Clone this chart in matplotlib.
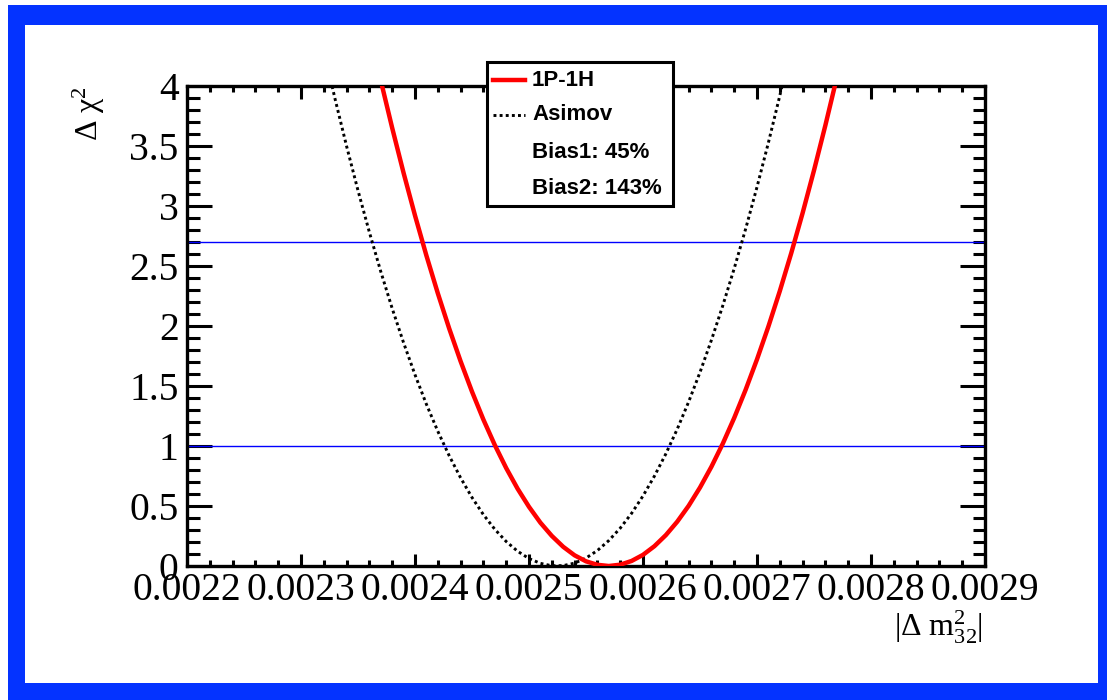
import matplotlib
matplotlib.use("Agg")
import matplotlib.pyplot as plt
from matplotlib.patches import Rectangle
from matplotlib.lines import Line2D
from matplotlib.ticker import MultipleLocator, FormatStrFormatter, FuncFormatter

# ---- data -----------------------------------------------------------------
# |dm^2_32| scan points and delta chi^2 for the 1P-1H fit
dm2_1p1h = [0.00237, 0.00238, 0.00239, 0.00240, 0.00241, 0.00242, 0.00243,
            0.00244, 0.00245, 0.00246, 0.00247, 0.00248, 0.00249, 0.00250,
            0.00251, 0.00252, 0.00253, 0.00254, 0.00255, 0.00256, 0.00257,
            0.00258, 0.00259, 0.00260, 0.00261, 0.00262, 0.00263, 0.00264,
            0.00265, 0.00266, 0.00267, 0.00268, 0.00269, 0.00270, 0.00271,
            0.00272, 0.00273, 0.00274, 0.00275, 0.00276, 0.00277]
chi2_1p1h = [4.045, 3.650, 3.275, 2.921, 2.587, 2.273, 1.979, 1.706, 1.453,
             1.220, 1.008, 0.816, 0.644, 0.493, 0.361, 0.251, 0.160, 0.089,
             0.039, 0.010, 0.000, 0.011, 0.042, 0.093, 0.165, 0.257, 0.369,
             0.501, 0.654, 0.827, 1.020, 1.234, 1.468, 1.722, 1.996, 2.291,
             2.606, 2.941, 3.297, 3.673, 4.069]

# Asimov scan
dm2_asimov = [0.00232, 0.00233, 0.00234, 0.00235, 0.00236, 0.00237, 0.00238,
              0.00239, 0.00240, 0.00241, 0.00242, 0.00243, 0.00244, 0.00245,
              0.00246, 0.00247, 0.00248, 0.00249, 0.00250, 0.00251, 0.00252,
              0.00253, 0.00254, 0.00255, 0.00256, 0.00257, 0.00258, 0.00259,
              0.00260, 0.00261, 0.00262, 0.00263, 0.00264, 0.00265, 0.00266,
              0.00267, 0.00268, 0.00269, 0.00270, 0.00271, 0.00272, 0.00273]
chi2_asimov = [4.297, 3.887, 3.498, 3.129, 2.781, 2.453, 2.146, 1.860, 1.594,
               1.348, 1.123, 0.919, 0.735, 0.571, 0.428, 0.306, 0.204, 0.123,
               0.062, 0.022, 0.002, 0.003, 0.024, 0.066, 0.129, 0.212, 0.315,
               0.439, 0.584, 0.749, 0.934, 1.140, 1.367, 1.614, 1.882, 2.170,
               2.479, 2.808, 3.158, 3.528, 3.919, 4.331]

# confidence-level reference lines
cl_levels = [1.0, 2.7]

legend_labels = ["1P-1H", "Asimov", "Bias1: 45%", "Bias2: 143%"]

x_range = (0.0022, 0.0029)
y_range = (0.0, 4.0)

# ---- style ----------------------------------------------------------------
plt.rcParams["font.family"] = "Liberation Serif"
plt.rcParams["mathtext.fontset"] = "custom"
plt.rcParams["mathtext.rm"] = "Liberation Serif"
plt.rcParams["mathtext.it"] = "Liberation Serif:italic"
plt.rcParams["mathtext.bf"] = "Liberation Serif:bold"

W, H = 1107, 700
fig = plt.figure(figsize=(W / 100, H / 100), dpi=100)
fig.patch.set_facecolor("white")

# blue canvas frame
fig.add_artist(Rectangle((8 / W, 0), 1 - 8 / W, 695 / H,
                         transform=fig.transFigure, facecolor="#0433ff",
                         edgecolor="none", zorder=-2))
fig.add_artist(Rectangle((25 / W, 17 / H), (1098 - 25) / W, (683 - 25) / H,
                         transform=fig.transFigure, facecolor="white",
                         edgecolor="none", zorder=-1))

ax_l, ax_r, ax_t, ax_b = 187, 985, 86, 566
ax = fig.add_axes([ax_l / W, (H - ax_b) / H, (ax_r - ax_l) / W, (ax_b - ax_t) / H])
ax.set_facecolor("white")

dotted = (0, (1.0, 1.1))

for lvl in cl_levels:
    ax.axhline(lvl, color="#0000ff", lw=1.0, zorder=2)

ax.plot(dm2_asimov, chi2_asimov, color="black", lw=2.1,
        linestyle=dotted, zorder=3)
ax.plot(dm2_1p1h, chi2_1p1h, color="#ff0000", lw=3.2, zorder=4,
        solid_joinstyle="round")

ax.set_xlim(*x_range)
ax.set_ylim(*y_range)

ax.xaxis.set_major_locator(MultipleLocator(0.0001))
ax.xaxis.set_minor_locator(MultipleLocator(0.00002))
ax.yaxis.set_major_locator(MultipleLocator(0.5))
ax.yaxis.set_minor_locator(MultipleLocator(0.1))
ax.xaxis.set_major_formatter(FormatStrFormatter("%.4f"))
ax.yaxis.set_major_formatter(FuncFormatter(lambda v, p: f"{v:g}"))

for sp in ax.spines.values():
    sp.set_linewidth(2.4)

ax.tick_params(axis="both", which="both", direction="in",
               top=True, right=True, width=2.2, colors="black")
ax.tick_params(axis="x", which="major", length=9, pad=4, labelsize=28.5)
ax.tick_params(axis="x", which="minor", length=4.5)
ax.tick_params(axis="y", which="major", length=18, pad=6, labelsize=28.5)
ax.tick_params(axis="y", which="minor", length=9)

# axis titles
ax.text((89 - ax_l) / (ax_r - ax_l), 1.0, r"$\mathrm{\Delta\ \chi}^{2}$",
        transform=ax.transAxes, rotation=90, ha="center", va="top",
        fontsize=23)
ax.text(0.9975, (ax_b - 637) / (ax_b - ax_t), r"$|\Delta\ \mathrm{m}^{2}_{32}|$",
        transform=ax.transAxes, ha="right", va="baseline", fontsize=23)

# legend box
def ax_x(px):
    return (px - ax_l) / (ax_r - ax_l)

def ax_y(py):
    return (ax_b - py) / (ax_b - ax_t)

box_x0, box_x1, box_y0, box_y1 = 487, 673, 62, 206
ax.add_artist(Rectangle((ax_x(box_x0), ax_y(box_y1)),
                        ax_x(box_x1) - ax_x(box_x0), ax_y(box_y0) - ax_y(box_y1),
                        transform=ax.transAxes, facecolor="white",
                        edgecolor="black", lw=2.2, zorder=10, clip_on=False))

row_y = [80, 115, 152, 188]
ax.add_artist(Line2D([ax_x(493), ax_x(525)], [ax_y(row_y[0])] * 2,
                     transform=ax.transAxes, color="#ff0000", lw=3.2,
                     zorder=11, clip_on=False))
ax.add_artist(Line2D([ax_x(493), ax_x(525)], [ax_y(row_y[1])] * 2,
                     transform=ax.transAxes, color="black", lw=2.1,
                     linestyle=dotted, zorder=11, clip_on=False))
for lab, yy in zip(legend_labels, row_y):
    ax.text(ax_x(532), ax_y(yy), lab, transform=ax.transAxes,
            ha="left", va="center", fontsize=16, fontweight="bold",
            family="Liberation Sans", zorder=12, clip_on=False)

fig.savefig("out.png", dpi=100)
